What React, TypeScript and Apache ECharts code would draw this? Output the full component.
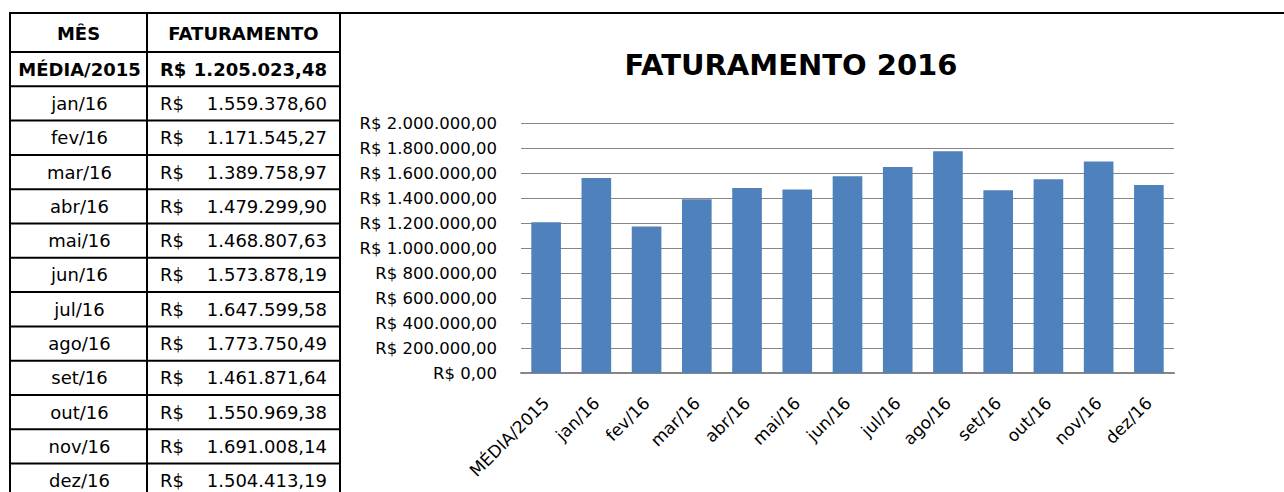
import React, { useEffect, useRef } from "react";
import * as echarts from "echarts";

const categories = [
  "MÉDIA/2015", "jan/16", "fev/16", "mar/16", "abr/16", "mai/16", "jun/16",
  "jul/16", "ago/16", "set/16", "out/16", "nov/16", "dez/16",
];
const revenue = [
  1205023.48, 1559378.6, 1171545.27, 1389758.97, 1479299.9, 1468807.63,
  1573878.19, 1647599.58, 1773750.49, 1461871.64, 1550969.38, 1691008.14,
  1504413.19,
];
const headers = ["MÊS", "FATURAMENTO"];
const chartTitle = "FATURAMENTO 2016";

const FONT = "'DejaVu Sans', sans-serif";

function brl(v: number): string {
  const [i, d] = v.toFixed(2).split(".");
  return i.replace(/\B(?=(\d{3})+(?!\d))/g, ".") + "," + d;
}

function buildTable(): any[] {
  const els: any[] = [];
  const xL = 10, xM = 147, xR = 340, yTop = 13, yHead = 52, rowH = 34.3;
  const stroke = { stroke: "#000", lineWidth: 2 };
  const line = (x1: number, y1: number, x2: number, y2: number) => ({
    type: "line", shape: { x1, y1, x2, y2 }, style: stroke, silent: true,
  });
  const text = (t: string, x: number, y: number, align: string, bold: boolean) => ({
    type: "text", x, y, silent: true,
    style: {
      text: t, font: `${bold ? "bold " : ""}18px ${FONT}`, fill: "#000",
      align, verticalAlign: "middle", textAlign: align, textVerticalAlign: "middle",
    },
  });
  els.push(line(xL - 1, yTop, 1284, yTop));
  els.push(line(xL, yTop, xL, 492));
  els.push(line(xM, yTop, xM, 492));
  els.push(line(xR, yTop, xR, 492));
  els.push(line(xL, yHead, xR, yHead));
  els.push(text(headers[0], (xL + xM) / 2, 33, "center", true));
  els.push(text(headers[1], (xM + xR) / 2, 33, "center", true));
  categories.forEach((c, i) => {
    const top = yHead + i * rowH;
    const cy = top + rowH / 2;
    const bold = i === 0;
    els.push(line(xL, top + rowH, xR, top + rowH));
    els.push(text(c, (xL + xM) / 2 + 1, cy, "center", bold));
    els.push(text("R$", 160, cy, "left", bold));
    els.push(text(brl(revenue[i]), 327, cy, "right", bold));
  });
  return els;
}

export default function App() {
  const ref = useRef<HTMLDivElement>(null);
  useEffect(() => {
    if (!ref.current) return;
    const chart = echarts.init(ref.current, null, { renderer: "svg" });
    chart.setOption({
      animation: false,
      backgroundColor: "#fff",
      title: {
        text: chartTitle,
        left: 786,
        top: 45,
        textAlign: "center",
        textStyle: { fontFamily: FONT, fontWeight: "bold", fontSize: 29, color: "#000" },
      },
      grid: { left: 521, right: 110, top: 123, bottom: 119, containLabel: false },
      xAxis: {
        type: "category",
        data: categories,
        axisLine: { show: true, lineStyle: { color: "#868686", width: 2 } },
        axisTick: { show: false },
        axisLabel: {
          interval: 0, rotate: 45, margin: 27, color: "#000",
          fontFamily: FONT, fontSize: 17,
        },
      },
      yAxis: {
        type: "value",
        min: 0,
        max: 2000000,
        interval: 200000,
        axisLine: { show: false },
        axisTick: { show: false },
        axisLabel: {
          margin: 24, color: "#000", fontFamily: FONT, fontSize: 16.5,
          formatter: (v: number) => "R$ " + brl(v),
        },
        splitLine: { show: true, lineStyle: { color: "#868686", width: 1 } },
      },
      series: [
        {
          type: "bar",
          data: revenue,
          barCategoryGap: "41%",
          itemStyle: { color: "#4F81BD" },
        },
      ],
      graphic: buildTable(),
    });
    return () => chart.dispose();
  }, []);
  return (
    <div
      ref={ref}
      style={{ position: "fixed", left: 0, top: 0, width: 1284, height: 492 }}
    />
  );
}
